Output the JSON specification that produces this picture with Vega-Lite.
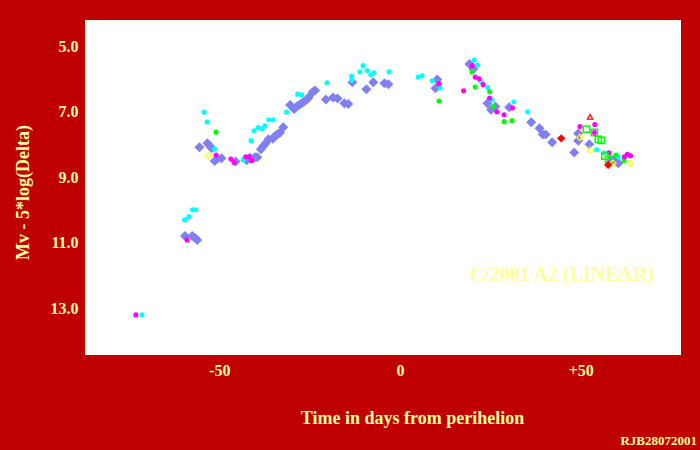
{
  "$schema": "https://vega.github.io/schema/vega-lite/v6.json",
  "width": 596,
  "height": 335,
  "autosize": {"type": "none"},
  "padding": {"left": 85, "top": 20, "right": 19, "bottom": 95},
  "background": "#BE0000",
  "title": {"text": "RJB28072001", "orient": "bottom", "anchor": "end", "frame": "group", "font": "Liberation Serif", "fontSize": 13, "fontWeight": "bold", "color": "#FFFF99", "offset": 8, "dx": 16},
  "config": {
    "view": {"stroke": null, "fill": "white"},
    "axis": {"domain": false, "ticks": false, "grid": false, "labelFont": "Liberation Serif", "labelFontSize": 16, "labelFontWeight": "bold", "labelColor": "#FFFF99", "titleFont": "Liberation Serif", "titleFontSize": 18, "titleFontWeight": "bold", "titleColor": "#FFFF99"}
  },
  "datasets": {
    "obs": [
    {"s":"B","d":-59.5,"m":10.80},{"s":"B","d":-57.5,"m":10.80},{"s":"B","d":-56.7,"m":10.86},{"s":"B","d":-56.1,"m":10.92},
    {"s":"B","d":-55.5,"m":8.09},{"s":"B","d":-53.3,"m":7.97},{"s":"B","d":-52.6,"m":8.05},{"s":"B","d":-52.1,"m":8.12},
    {"s":"B","d":-51.3,"m":8.51},{"s":"B","d":-50.6,"m":8.45},{"s":"B","d":-49.4,"m":8.43},{"s":"B","d":-45.5,"m":8.53},
    {"s":"B","d":-42.4,"m":8.49},{"s":"B","d":-41.5,"m":8.41},{"s":"B","d":-40.1,"m":8.40},{"s":"B","d":-39.5,"m":8.40},
    {"s":"B","d":-38.5,"m":8.15},{"s":"B","d":-37.8,"m":8.05},{"s":"B","d":-37.2,"m":7.97},{"s":"B","d":-36.4,"m":7.85},
    {"s":"B","d":-35.2,"m":7.83},{"s":"B","d":-34.6,"m":7.75},{"s":"B","d":-33.8,"m":7.69},{"s":"B","d":-33.2,"m":7.65},
    {"s":"B","d":-32.3,"m":7.48},{"s":"B","d":-30.4,"m":6.80},{"s":"B","d":-29.3,"m":6.92},{"s":"B","d":-28.6,"m":6.85},
    {"s":"B","d":-27.9,"m":6.80},{"s":"B","d":-27.2,"m":6.75},{"s":"B","d":-26.6,"m":6.70},{"s":"B","d":-25.8,"m":6.63},
    {"s":"B","d":-25.3,"m":6.57},{"s":"B","d":-24.2,"m":6.41},{"s":"B","d":-23.5,"m":6.36},{"s":"B","d":-20.5,"m":6.63},
    {"s":"B","d":-18.5,"m":6.57},{"s":"B","d":-17.3,"m":6.60},{"s":"B","d":-15.4,"m":6.75},{"s":"B","d":-14.3,"m":6.77},
    {"s":"B","d":-13.2,"m":6.11},{"s":"B","d":-9.3,"m":6.32},{"s":"B","d":-7.4,"m":6.11},{"s":"B","d":-4.3,"m":6.14},
    {"s":"B","d":-3.2,"m":6.17},{"s":"B","d":10.3,"m":6.02},{"s":"B","d":9.8,"m":6.29},{"s":"B","d":19.2,"m":5.55},
    {"s":"B","d":20.3,"m":5.70},{"s":"B","d":24.2,"m":6.75},{"s":"B","d":26.4,"m":6.85},{"s":"B","d":25.2,"m":6.95},
    {"s":"B","d":30.2,"m":6.87},{"s":"B","d":36.3,"m":7.33},{"s":"B","d":38.6,"m":7.51},{"s":"B","d":39.5,"m":7.70},
    {"s":"B","d":40.3,"m":7.70},{"s":"B","d":42.1,"m":7.94},{"s":"B","d":48.2,"m":8.25},{"s":"B","d":49.3,"m":7.89},
    {"s":"B","d":49.3,"m":7.67},{"s":"B","d":52.4,"m":8.00},{"s":"B","d":58.4,"m":8.48},{"s":"B","d":59.3,"m":8.46},
    {"s":"B","d":60.4,"m":8.58},
    {"s":"C","d":-57.4,"m":10.00},{"s":"C","d":-56.5,"m":10.00},{"s":"C","d":-58.4,"m":10.21},{"s":"C","d":-59.6,"m":10.31},
    {"s":"C","d":-71.4,"m":13.21},{"s":"C","d":-54.2,"m":7.02},{"s":"C","d":-53.4,"m":7.32},{"s":"C","d":-51.3,"m":8.15},
    {"s":"C","d":-43.4,"m":8.47},{"s":"C","d":-41.2,"m":7.89},{"s":"C","d":-40.4,"m":7.59},{"s":"C","d":-39.3,"m":7.49},
    {"s":"C","d":-38.2,"m":7.53},{"s":"C","d":-37.4,"m":7.44},{"s":"C","d":-36.3,"m":7.25},{"s":"C","d":-35.1,"m":7.25},
    {"s":"C","d":-31.4,"m":7.02},{"s":"C","d":-28.3,"m":6.47},{"s":"C","d":-27.2,"m":6.49},{"s":"C","d":-20.2,"m":6.12},
    {"s":"C","d":-13.4,"m":5.92},{"s":"C","d":-13.4,"m":6.04},{"s":"C","d":-10.2,"m":5.60},{"s":"C","d":-11.1,"m":5.79},
    {"s":"C","d":-9.1,"m":5.75},{"s":"C","d":-8.1,"m":5.88},{"s":"C","d":-7.2,"m":5.82},{"s":"C","d":-3.0,"m":5.79},
    {"s":"C","d":5.0,"m":5.95},{"s":"C","d":6.1,"m":5.91},{"s":"C","d":8.9,"m":6.06},{"s":"C","d":11.1,"m":6.28},
    {"s":"C","d":20.5,"m":5.43},{"s":"C","d":21.5,"m":5.58},{"s":"C","d":22.4,"m":6.08},{"s":"C","d":24.3,"m":6.27},
    {"s":"C","d":25.5,"m":6.65},{"s":"C","d":31.5,"m":6.70},{"s":"C","d":35.3,"m":7.01},{"s":"C","d":54.4,"m":8.17},
    {"s":"C","d":56.4,"m":8.26},{"s":"C","d":60.4,"m":8.38},
    {"s":"M","d":-58.9,"m":10.92},{"s":"M","d":-73.1,"m":13.21},{"s":"M","d":-50.9,"m":8.33},{"s":"M","d":-46.8,"m":8.45},
    {"s":"M","d":-45.9,"m":8.56},{"s":"M","d":-42.7,"m":8.38},{"s":"M","d":-41.8,"m":8.38},{"s":"M","d":-41.0,"m":8.50},
    {"s":"M","d":10.8,"m":6.15},{"s":"M","d":17.6,"m":6.37},{"s":"M","d":20.0,"m":5.60},{"s":"M","d":20.8,"m":5.95},
    {"s":"M","d":21.9,"m":6.00},{"s":"M","d":23.0,"m":6.18},{"s":"M","d":24.8,"m":6.59},{"s":"M","d":26.8,"m":7.01},
    {"s":"M","d":28.8,"m":7.10},{"s":"M","d":31.1,"m":6.89},{"s":"M","d":49.8,"m":7.46},{"s":"M","d":53.9,"m":7.40},
    {"s":"M","d":53.8,"m":7.64},{"s":"M","d":57.8,"m":8.26},{"s":"M","d":62.1,"m":8.38},{"s":"M","d":63.8,"m":8.35},
    {"s":"M","d":62.9,"m":8.31},
    {"s":"G","d":-50.9,"m":7.63},{"s":"G","d":10.8,"m":6.68},{"s":"G","d":19.9,"m":5.79},{"s":"G","d":20.8,"m":6.25},
    {"s":"G","d":24.8,"m":6.40},{"s":"G","d":25.8,"m":6.85},{"s":"G","d":28.8,"m":7.31},{"s":"G","d":31.0,"m":7.28},
    {"s":"G","d":59.8,"m":8.33},{"s":"G","d":62.0,"m":8.50},
    {"s":"GS","d":51.6,"m":7.54},{"s":"GS","d":53.8,"m":7.64},{"s":"GS","d":54.9,"m":7.85},{"s":"GS","d":55.7,"m":7.88},
    {"s":"GS","d":56.7,"m":8.36},{"s":"GS","d":57.7,"m":8.46},
    {"s":"Y","d":-53.0,"m":8.34},{"s":"Y","d":49.8,"m":7.79},{"s":"Y","d":52.7,"m":8.18},{"s":"Y","d":58.9,"m":8.58},
    {"s":"Y","d":63.7,"m":8.58},
    {"s":"R","d":44.6,"m":7.82},{"s":"R","d":57.6,"m":8.63},
    {"s":"RT","d":52.6,"m":7.16}
    ],
    "label": [{"label": "C/2001 A2 (LINEAR)", "d": 44.8, "m": 11.99}]
  },
  "layer": [
    {"data": {"name": "obs"},
     "encoding": {
      "x": {"field": "d", "type": "quantitative", "scale": {"domain": [-87.16, 77.75], "nice": false, "zero": false},
        "axis": {"values": [-50, 0, 50], "labelExpr": "datum.value > 0 ? '+' + datum.value : '' + datum.value", "labelPadding": 7,
          "title": "Time in days from perihelion", "titleX": 327, "titleY": 63, "titleBaseline": "middle", "titleAlign": "center"}},
      "y": {"field": "m", "type": "quantitative", "scale": {"domain": [4.206, 14.435], "reverse": true, "nice": false, "zero": false},
        "axis": {"values": [5, 7, 9, 11, 13], "format": ".1f", "labelPadding": 7,
          "title": "Mv - 5*log(Delta)", "titleX": -62, "titleY": 172, "titleAngle": -90, "titleBaseline": "middle", "titleAlign": "center"}}
     },
     "layer": [
      {"transform": [{"filter": "datum.s == 'B'"}], "mark": {"type": "point", "shape": "diamond", "filled": true, "opacity": 1, "size": 100, "color": "#8080F0"}},
      {"transform": [{"filter": "datum.s == 'C'"}], "mark": {"type": "point", "shape": "circle", "filled": true, "opacity": 1, "size": 26, "color": "#00FFFF"}},
      {"transform": [{"filter": "datum.s == 'G'"}], "mark": {"type": "point", "shape": "circle", "filled": true, "opacity": 1, "size": 26, "color": "#00FF00"}},
      {"transform": [{"filter": "datum.s == 'M'"}], "mark": {"type": "point", "shape": "circle", "filled": true, "opacity": 1, "size": 26, "color": "#FF00FF"}},
      {"transform": [{"filter": "datum.s == 'GS'"}], "mark": {"type": "point", "shape": "square", "filled": false, "opacity": 1, "size": 40, "strokeWidth": 1.5, "color": "#00FF00"}},
      {"transform": [{"filter": "datum.s == 'Y'"}], "mark": {"type": "point", "shape": "diamond", "filled": false, "opacity": 1, "size": 40, "strokeWidth": 1.2, "color": "#FFFF00"}},
      {"transform": [{"filter": "datum.s == 'R'"}], "mark": {"type": "point", "shape": "diamond", "filled": true, "opacity": 1, "size": 70, "color": "#FF0000"}},
      {"transform": [{"filter": "datum.s == 'RT'"}], "mark": {"type": "point", "shape": "triangle-up", "filled": false, "opacity": 1, "size": 30, "strokeWidth": 1.2, "color": "#FF0000"}}
     ]
    },
    {"data": {"name": "label"},
     "mark": {"type": "text", "font": "Liberation Serif", "fontSize": 20, "fontWeight": "bold", "fill": "#FFFF99", "opacity": 1, "align": "center", "baseline": "middle"},
     "encoding": {"x": {"field": "d", "type": "quantitative"}, "y": {"field": "m", "type": "quantitative"}, "text": {"field": "label"}}}
  ]
}
